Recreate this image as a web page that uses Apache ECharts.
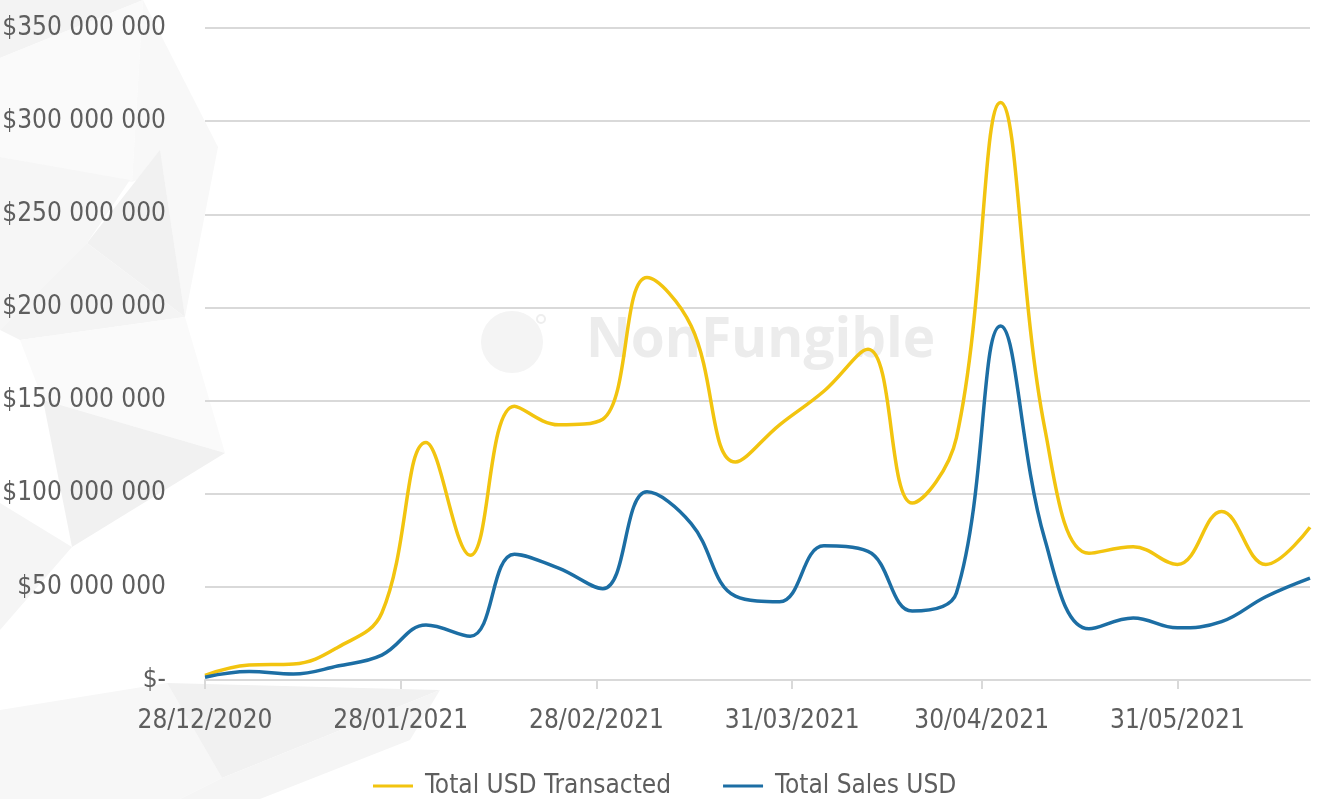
<!DOCTYPE html>
<html>
<head>
<meta charset="utf-8">
<title>NFT volume</title>
<script src="https://cdn.jsdelivr.net/npm/echarts@6/dist/echarts.min.js"></script>
<style>
    html, body {
        margin: 0;
        padding: 0;
        background: #ffffff;
    }

    #main {
        width: 1317px;
        height: 799px;
    }
</style>
</head>
<body>
<div id="main"></div>
<script>
    // weekly data points
    var weeks = ['28/12/2020', '04/01/2021', '11/01/2021', '18/01/2021', '25/01/2021', '01/02/2021',
        '08/02/2021', '15/02/2021', '22/02/2021', '01/03/2021', '08/03/2021', '15/03/2021',
        '22/03/2021', '29/03/2021', '05/04/2021', '12/04/2021', '19/04/2021', '26/04/2021',
        '03/05/2021', '10/05/2021', '17/05/2021', '24/05/2021', '31/05/2021', '07/06/2021',
        '14/06/2021', '21/06/2021'];

    var totalTransacted = [2.5e6, 8e6, 8.6e6, 17.5e6, 36e6, 127.5e6, 67e6, 147e6, 137e6, 140e6,
        216e6, 190e6, 117e6, 137e6, 155e6, 177.5e6, 95e6, 130e6, 310e6, 135e6,
        68e6, 71.5e6, 62e6, 90.5e6, 62e6, 82e6];

    var totalSales = [1.5e6, 4.5e6, 3.2e6, 7.5e6, 13.4e6, 29.5e6, 23.5e6, 67.5e6, 60e6, 49e6,
        101e6, 84e6, 45e6, 42e6, 72e6, 69e6, 37e6, 46.7e6, 190e6, 75.5e6,
        27.5e6, 33.3e6, 28e6, 31.3e6, 44.7e6, 54.7e6];

    // x axis tick labels
    var tickLabels = ['28/12/2020', '28/01/2021', '28/02/2021', '31/03/2021', '30/04/2021', '31/05/2021'];

    var labelFont = '"Liberation Sans Narrow", "DejaVu Sans Condensed", sans-serif';
    var textColor = '#5e5e5e';
    var DAY = 86400000;

    // dd/mm/yyyy -> days since first week
    function toTime(s) {
        var p = s.split('/');
        return Date.UTC(+p[2], +p[1] - 1, +p[0]);
    }

    var startTime = toTime(weeks[0]);

    function toDay(s) {
        return Math.round((toTime(s) - startTime) / DAY);
    }

    var tickDays = tickLabels.map(toDay);

    function dateLabel(v) {
        var i = tickDays.indexOf(Math.round(v));
        return i >= 0 ? tickLabels[i] : '';
    }

    function moneyLabel(v) {
        if (v === 0) return '$-';
        return '$' + String(Math.round(v)).replace(/\B(?=(\d{3})+(?!\d))/g, ' ');
    }

    var transactedData = weeks.map(function (w, i) {
        return [toDay(w), totalTransacted[i]];
    });
    var salesData = weeks.map(function (w, i) {
        return [toDay(w), totalSales[i]];
    });

    // background decoration (low poly shapes)
    var shapes = [
        {pts: [[0, 0], [143, 0], [0, 58]], fill: '#f3f3f3'},
        {pts: [[143, 0], [218, 147], [132, 182]], fill: '#f8f8f8'},
        {pts: [[0, 58], [143, 0], [132, 182], [0, 157]], fill: '#fafafa'},
        {pts: [[160, 150], [218, 147], [185, 317]], fill: '#f8f8f8'},
        {pts: [[87, 243], [160, 150], [185, 317]], fill: '#f1f1f1'},
        {pts: [[0, 157], [130, 180], [87, 243], [0, 330]], fill: '#f6f6f6'},
        {pts: [[0, 330], [87, 243], [185, 317], [20, 340]], fill: '#f4f4f4'},
        {pts: [[20, 340], [185, 317], [225, 453], [43, 400]], fill: '#fafafa'},
        {pts: [[43, 400], [225, 453], [72, 547]], fill: '#f1f1f1'},
        {pts: [[0, 503], [72, 547], [0, 630]], fill: '#f5f5f5'},
        {pts: [[0, 710], [167, 683], [222, 778], [180, 799], [0, 799]], fill: '#f7f7f7'},
        {pts: [[167, 683], [440, 690], [222, 778]], fill: '#f1f1f1'},
        {pts: [[222, 778], [440, 690], [410, 740], [260, 799], [180, 799]], fill: '#f5f5f5'}
    ];

    var graphics = shapes.map(function (s) {
        return {
            type: 'polygon',
            z: -10,
            silent: true,
            shape: {points: s.pts},
            style: {fill: s.fill}
        };
    });

    // watermark
    graphics.push({
        type: 'circle',
        z: -5,
        silent: true,
        shape: {cx: 512, cy: 342, r: 31},
        style: {fill: '#f4f4f4'}
    });
    graphics.push({
        type: 'circle',
        z: -5,
        silent: true,
        shape: {cx: 541, cy: 319, r: 4},
        style: {fill: 'none', stroke: '#eeeeee', lineWidth: 2}
    });
    graphics.push({
        type: 'text',
        z: -5,
        silent: true,
        left: 586,
        top: 314,
        style: {
            text: 'NonFungible',
            fill: '#ececec',
            font: 'bold 55px "Open Sans", "Noto Sans", sans-serif'
        }
    });

    var myChart = echarts.init(document.getElementById('main'), null, {renderer: 'canvas'});

    var option = {
        animation: false,
        graphic: graphics,
        grid: {
            left: 205,
            right: 7,
            top: 28,
            bottom: 119,
            outerBoundsMode: 'none'
        },
        legend: {
            left: 373,
            bottom: 0,
            padding: 0,
            icon: 'rect',
            itemWidth: 40,
            itemHeight: 3,
            itemGap: 52,
            textStyle: {
                color: textColor,
                fontSize: 26,
                fontFamily: labelFont,
                padding: [0, 0, 0, 7]
            },
            data: ['Total USD Transacted', 'Total Sales USD']
        },
        xAxis: {
            type: 'value',
            min: 0,
            max: toDay(weeks[weeks.length - 1]),
            axisLine: {
                show: true,
                lineStyle: {color: '#d9d9d9', width: 2}
            },
            axisTick: {
                show: true,
                length: 9,
                customValues: tickDays,
                lineStyle: {color: '#d9d9d9', width: 2}
            },
            axisLabel: {
                customValues: tickDays,
                formatter: dateLabel,
                color: textColor,
                fontSize: 26,
                fontFamily: labelFont,
                margin: 28,
                hideOverlap: false
            },
            splitLine: {show: false}
        },
        yAxis: {
            type: 'value',
            min: 0,
            max: 350000000,
            interval: 50000000,
            axisLine: {show: false},
            axisTick: {show: false},
            axisLabel: {
                formatter: moneyLabel,
                color: textColor,
                fontSize: 26,
                fontFamily: labelFont,
                margin: 39
            },
            splitLine: {
                lineStyle: {color: '#d9d9d9', width: 2}
            }
        },
        series: [
            {
                name: 'Total USD Transacted',
                type: 'line',
                data: transactedData,
                smooth: 0.4,
                symbol: 'none',
                itemStyle: {color: '#f2c40f'},
                lineStyle: {color: '#f2c40f', width: 3.5}
            },
            {
                name: 'Total Sales USD',
                type: 'line',
                data: salesData,
                smooth: 0.4,
                symbol: 'none',
                itemStyle: {color: '#1c6ea4'},
                lineStyle: {color: '#1c6ea4', width: 3.5}
            }
        ]
    };

    myChart.setOption(option);
</script>
</body>
</html>
